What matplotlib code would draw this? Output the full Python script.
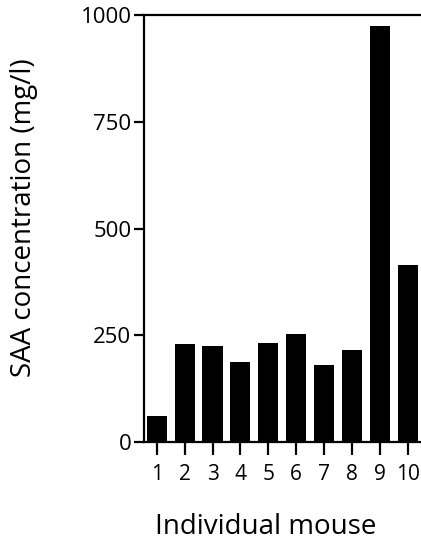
import matplotlib
matplotlib.use("Agg")
import matplotlib.pyplot as plt

plt.rcParams['font.family'] = ['Open Sans', 'DejaVu Sans']

# values
mice = [1, 2, 3, 4, 5, 6, 7, 8, 9, 10]
saa = [60, 229, 224, 188, 233, 252, 181, 216, 975, 415]
yticks = [0, 250, 500, 750, 1000]

fig = plt.figure(figsize=(4.21, 5.46), dpi=100)
ax = fig.add_axes([0.342, 0.1905, 0.658, 0.782])

ax.bar(mice, saa, width=0.72, color='black')

ax.set_xlim(0.545, 10.47)
ax.set_ylim(0, 1000)
ax.set_yticks(yticks)
ax.set_xticks(mice)
ax.set_xticklabels([str(m) for m in mice], fontsize=15)
ax.set_yticklabels([str(t) for t in yticks], fontsize=16)

# frame: left, bottom and top lines only
ax.spines['right'].set_visible(False)
for side in ['left', 'bottom', 'top']:
    ax.spines[side].set_linewidth(1.6)
ax.tick_params(axis='y', direction='out', length=7, width=1.6, pad=2)
ax.tick_params(axis='x', direction='out', length=9, width=1.6, pad=7)

ax.set_ylabel('SAA concentration (mg/l)', fontsize=20, va='center')
ax.yaxis.set_label_coords(-0.433, 0.525)
ax.set_xlabel('Individual mouse', fontsize=20, va='center')
ax.xaxis.set_label_coords(0.44, -0.199)

fig.savefig('out.png', dpi=100)
